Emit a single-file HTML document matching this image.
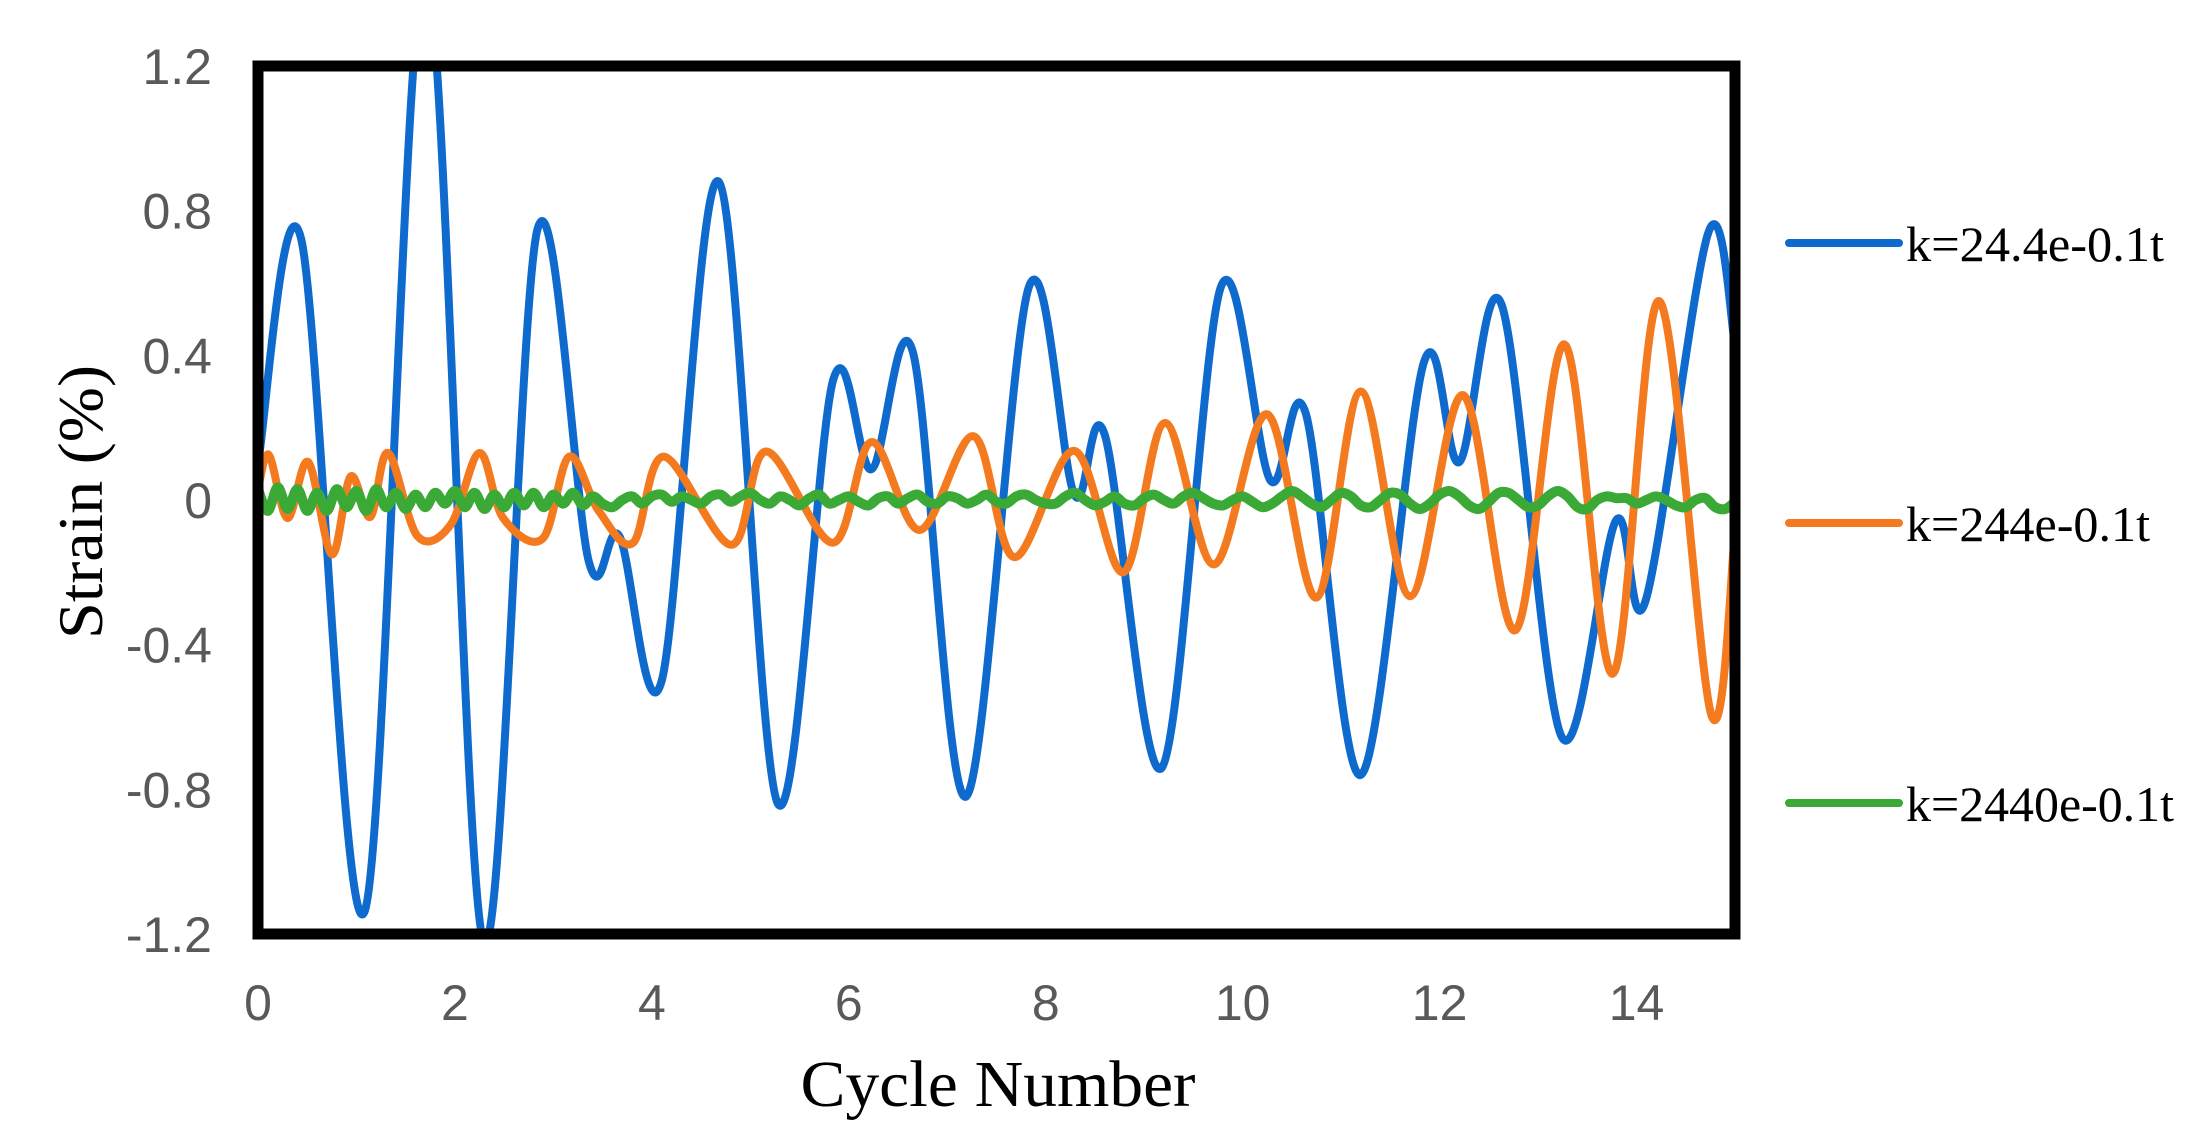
<!DOCTYPE html>
<html><head><meta charset="utf-8"><style>
html,body{margin:0;padding:0;background:#fff;}
svg{display:block;}
</style></head><body>
<svg id="chart" width="2204" height="1146" viewBox="0 0 2204 1146" xmlns="http://www.w3.org/2000/svg">
<defs><clipPath id="plotclip"><rect x="263" y="71" width="1467" height="858"/></clipPath></defs>
<g id="yticks"></g>
<g id="xticks"></g>
<g id="series" clip-path="url(#plotclip)"></g>
<rect x="258" y="66" width="1477" height="868" fill="none" stroke="#000" stroke-width="11"/>
<text x="998" y="1106" font-family="Liberation Serif, serif" font-size="66" text-anchor="middle" textLength="395" lengthAdjust="spacingAndGlyphs" fill="#000">Cycle Number</text>
<text transform="translate(102,502) rotate(-90)" font-family="Liberation Serif, serif" font-size="64" text-anchor="middle" textLength="274" lengthAdjust="spacingAndGlyphs" fill="#000">Strain (%)</text>
<g id="legend"></g>
</svg>
<script>
const yTickValues = [1.2, 0.8, 0.4, 0, -0.4, -0.8, -1.2];
const yTickLabels = ["1.2", "0.8", "0.4", "0", "-0.4", "-0.8", "-1.2"];
const xTickValues = [0, 2, 4, 6, 8, 10, 12, 14];
const xTickLabels = ["0", "2", "4", "6", "8", "10", "12", "14"];
const seriesNames = ["k=24.4e-0.1t", "k=244e-0.1t", "k=2440e-0.1t"];
const blueT = [0,0.44,1.08,1.7,2.29,2.84,3.36,3.67,4.1,4.68,5.28,5.84,6.23,6.65,7.19,7.83,8.29,8.6,9.18,9.78,10.28,10.64,11.2,11.84,12.2,12.63,13.24,13.79,14.09,14.73,15];
const blueV = [0.1,0.72,-1.14,1.45,-1.22,0.75,-0.17,-0.1,-0.5,0.88,-0.84,0.33,0.085,0.41,-0.82,0.59,0.015,0.18,-0.74,0.59,0.055,0.24,-0.76,0.38,0.105,0.54,-0.655,-0.057,-0.28,0.74,0.43];
const orangeT = [0,0.11,0.3,0.51,0.75,0.94,1.14,1.32,1.62,1.96,2.25,2.49,2.89,3.16,3.46,3.81,4.12,4.81,5.16,5.84,6.23,6.72,7.27,7.68,8.29,8.79,9.21,9.71,10.25,10.75,11.2,11.7,12.24,12.77,13.27,13.76,14.23,14.76,15];
const orangeV = [0.03,0.125,-0.05,0.105,-0.15,0.065,-0.047,0.13,-0.1,-0.067,0.13,-0.05,-0.107,0.12,-0.03,-0.118,0.12,-0.124,0.134,-0.118,0.16,-0.083,0.176,-0.158,0.136,-0.2,0.213,-0.178,0.237,-0.27,0.3,-0.266,0.29,-0.36,0.43,-0.48,0.55,-0.595,-0.087];
const greenV = [0.03,-0.03,0.035,-0.025,0.03,-0.03,0.02,-0.03,0.03,-0.02,0.025,-0.03,0.03,-0.02,0.02,-0.025,0.015,-0.02,0.02,-0.01,0.025,-0.02,0.02,-0.025,0.015,-0.02,0.02,-0.015,0.02,-0.02,0.015,-0.01,0.02,-0.015,0.01,-0.01,
-0.02,0.0,0.01,-0.01,0.01,0.015,-0.005,0.01,0.0,-0.01,0.01,0.015,-0.005,0.01,0.02,0.0,-0.01,0.01,0.0,-0.015,0.005,0.015,-0.01,0.0,0.01,-0.005,-0.015,0.005,0.01,-0.01,0.005,0.015,-0.005,-0.01,0.01,0.005,-0.01,0.0,0.015,-0.005,-0.01,0.01,0.015,0.0,-0.01,
-0.01,0.01,0.02,0.0,-0.015,-0.005,0.01,-0.01,-0.015,0.005,0.015,0.0,-0.01,0.01,0.02,0.005,-0.01,-0.015,0.0,0.01,-0.005,-0.02,-0.01,0.01,0.025,0.01,-0.01,-0.02,0.0,0.02,0.01,-0.015,-0.02,0.0,0.02,0.015,-0.01,-0.025,-0.01,0.015,0.025,0.01,-0.015,-0.025,-0.005,0.02,0.02,0.0,-0.02,-0.015,0.01,0.025,0.01,-0.02,-0.025,0.0,0.01,0.005,0.005,-0.01,0.0,0.01,0.0,-0.015,-0.02,0.0,0.005,-0.02,-0.025,-0.005];

const NS = "http://www.w3.org/2000/svg";
const X0 = 258, X1 = 1735, Y0 = 934, Y1 = 66;
const xMin = 0, xMax = 15, yMin = -1.2, yMax = 1.2;
function sx(t){ return X0 + (t - xMin) / (xMax - xMin) * (X1 - X0); }
function sy(v){ return Y0 - (v - yMin) / (yMax - yMin) * (Y0 - Y1); }

const yg = document.getElementById('yticks');
yTickValues.forEach((v, i) => {
  const t = document.createElementNS(NS, 'text');
  
  
  t.setAttribute('x', 212); t.setAttribute('y', sy(v) + 18);
  t.setAttribute('text-anchor', 'end');
  t.setAttribute('font-family', 'Liberation Sans, sans-serif');
  t.setAttribute('font-size', '50'); t.setAttribute('fill', '#595959');
  t.textContent = yTickLabels[i];
  yg.appendChild(t);
});
const xg = document.getElementById('xticks');
xTickValues.forEach((v, i) => {
  const t = document.createElementNS(NS, 'text');
  
  
  t.setAttribute('x', sx(v)); t.setAttribute('y', 1020);
  t.setAttribute('text-anchor', 'middle');
  t.setAttribute('font-family', 'Liberation Sans, sans-serif');
  t.setAttribute('font-size', '50'); t.setAttribute('fill', '#595959');
  t.textContent = xTickLabels[i];
  xg.appendChild(t);
});

function smoothPath(ts, vs){
  const p = ts.map((t, i) => [sx(t), sy(vs[i])]);
  let d = 'M' + p[0][0].toFixed(1) + ',' + p[0][1].toFixed(1);
  for (let i = 0; i < p.length - 1; i++){
    const a = p[Math.max(0, i-1)], b = p[i], c = p[i+1], e = p[Math.min(p.length-1, i+2)];
    const c1x = b[0] + (c[0]-a[0])/6, c1y = b[1] + (c[1]-a[1])/6;
    const c2x = c[0] - (e[0]-b[0])/6, c2y = c[1] - (e[1]-b[1])/6;
    d += ' C' + c1x.toFixed(1) + ',' + c1y.toFixed(1) + ' ' + c2x.toFixed(1) + ',' + c2y.toFixed(1) + ' ' + c[0].toFixed(1) + ',' + c[1].toFixed(1);
  }
  return d;
}
const sg = document.getElementById('series');
const greenT = greenV.map((v, i) => i * 15 / (greenV.length - 1));
const defs = [
  {t: blueT, v: blueV, c: '#0F6ACD', name: 'series-k-24.4', w: 8},
  {t: orangeT, v: orangeV, c: '#F47A20', name: 'series-k-244', w: 8},
  {t: greenT, v: greenV, c: '#3BA935', name: 'series-k-2440', w: 10}
];
defs.forEach(s => {
  const p = document.createElementNS(NS, 'path');
  
  
  p.setAttribute('d', smoothPath(s.t, s.v));
  p.setAttribute('fill', 'none'); p.setAttribute('stroke', s.c);
  p.setAttribute('stroke-width', s.w); p.setAttribute('stroke-linejoin', 'round');
  sg.appendChild(p);
});

const lg = document.getElementById('legend');
const legendY = [243, 523, 803];
const legendW = [258, 244, 268];
defs.forEach((s, i) => {
  const l = document.createElementNS(NS, 'line');
  
  
  l.setAttribute('x1', 1789); l.setAttribute('x2', 1899);
  l.setAttribute('y1', legendY[i]); l.setAttribute('y2', legendY[i]);
  l.setAttribute('stroke', s.c); l.setAttribute('stroke-width', '8'); l.setAttribute('stroke-linecap', 'round');
  lg.appendChild(l);
  const t = document.createElementNS(NS, 'text');
  
  
  t.setAttribute('x', 1906); t.setAttribute('y', legendY[i] + 18);
  t.setAttribute('font-family', 'Liberation Serif, serif');
  t.setAttribute('font-size', '50'); t.setAttribute('fill', '#000');
  t.setAttribute('textLength', legendW[i]);
  t.setAttribute('lengthAdjust', 'spacingAndGlyphs');
  t.textContent = seriesNames[i];
  lg.appendChild(t);
});
</script>
</body></html>
